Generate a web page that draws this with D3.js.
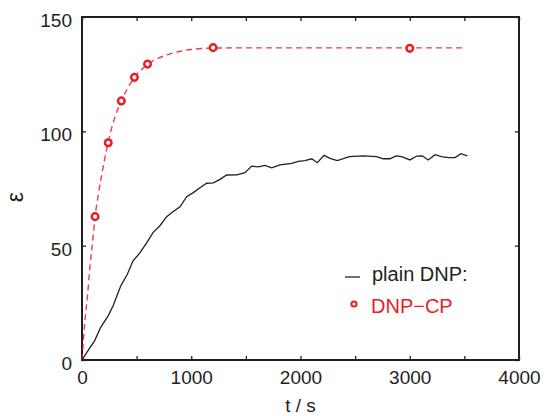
<!DOCTYPE html>
<html>
<head>
<meta charset="utf-8">
<script src="https://cdn.jsdelivr.net/npm/d3@7"></script>
<style>
  body { margin: 0; background: #fff; }
  text { font-family: "Liberation Sans", Arial, sans-serif; }
</style>
</head>
<body>
<div id="chart"></div>
<script>
// plain DNP trace (t in s, epsilon)
const plainT = [0, 55, 116, 171, 238, 284, 354, 415, 467, 528, 589, 650, 711, 775, 836, 897, 958, 1019,
    1080, 1141, 1202, 1263, 1324, 1416, 1492, 1553, 1614, 1675, 1736, 1812, 1919, 1980, 2041, 2103,
    2154, 2215, 2270, 2337, 2447, 2575, 2697, 2758, 2819, 2874, 2926, 3002, 3064, 3115, 3170, 3231,
    3292, 3353, 3414, 3469, 3527];
const plainE = [0, 4.1, 8.5, 14.3, 19.2, 23.6, 32.4, 37.5, 43.4, 46.7, 51.0, 55.7, 58.6, 62.7, 64.9, 67.0,
    71.4, 73.2, 75.3, 77.3, 77.5, 79.0, 80.9, 81.0, 81.9, 84.8, 84.5, 85.1, 84.0, 85.3, 86.0, 86.9, 87.2,
    88.0, 86.3, 89.5, 88.2, 87.2, 88.9, 89.3, 88.9, 88.0, 88.0, 89.3, 88.9, 87.5, 89.2, 89.3, 87.5, 89.8,
    88.9, 88.5, 88.5, 90.2, 89.3];

// DNP-CP measured points
const cpT = [120, 240, 360, 480, 600, 1200, 3000];
const cpE = [62.7, 95.0, 113.3, 123.6, 129.4, 136.6, 136.3];

// DNP-CP fit curve (dashed)
const fitT = [0, 25, 50, 75, 100, 120, 150, 200, 250, 300, 360, 420, 480, 540, 600, 700, 800, 900, 1000,
    1200, 1500, 2000, 3500];
const fitE = [0, 16, 28, 42, 53, 62.7, 72.5, 86, 97.5, 106, 113.3, 119, 123.6, 126.8, 129.4, 132, 133.8,
    135, 135.8, 136.4, 136.5, 136.5, 136.5];

const xTicks = [0, 500, 1000, 1500, 2000, 2500, 3000, 3500, 4000];
const xLabels = [0, 1000, 2000, 3000, 4000];
const yTicks = [0, 50, 100, 150];

const legendItems = ["plain DNP:", "DNP\u2212CP"];

class EpsChart {
    constructor(parentElement) {
        this.parentElement = parentElement;
        this.initVis();
    }

    initVis() {
        let vis = this;

        vis.margin = {top: 17, right: 28, bottom: 56, left: 82};
        vis.totalWidth = 547;
        vis.totalHeight = 416;
        vis.width = vis.totalWidth - vis.margin.left - vis.margin.right;
        vis.height = vis.totalHeight - vis.margin.top - vis.margin.bottom;

        vis.red = "#ec1c24";

        vis.svg = d3.select(vis.parentElement).append("svg")
            .attr("width", vis.totalWidth)
            .attr("height", vis.totalHeight)
            .append("g")
            .attr("transform", `translate(${vis.margin.left}, ${vis.margin.top})`);

        vis.x = d3.scaleLinear().domain([0, 4000]).range([0, vis.width]);
        vis.y = d3.scaleLinear().domain([0, 150]).range([vis.height, 0]);

        // inward ticks on all four sides
        const tickLen = 4;
        vis.svg.append("g")
            .attr("transform", `translate(0, ${vis.height})`)
            .call(d3.axisBottom(vis.x).tickValues(xTicks).tickSizeInner(-tickLen).tickSizeOuter(0)
                .tickFormat(d => xLabels.includes(d) ? d : ""))
            .call(g => g.selectAll("text").attr("dy", "1.1em").attr("font-size", 19).attr("fill", "#231f20"));
        vis.svg.append("g")
            .call(d3.axisTop(vis.x).tickValues(xTicks).tickSizeInner(-tickLen).tickSizeOuter(0).tickFormat(""));
        vis.svg.append("g")
            .call(d3.axisLeft(vis.y).tickValues(yTicks).tickSizeInner(-tickLen).tickSizeOuter(0).tickPadding(10))
            .call(g => g.selectAll("text").attr("dy", "0.5em").attr("font-size", 19).attr("fill", "#231f20"));
        vis.svg.append("g")
            .attr("transform", `translate(${vis.width}, 0)`)
            .call(d3.axisRight(vis.y).tickValues(yTicks).tickSizeInner(-tickLen).tickSizeOuter(0).tickFormat(""));

        vis.svg.selectAll(".domain").remove();
        vis.svg.selectAll(".tick line").attr("stroke", "#231f20").attr("stroke-width", 1.3);

        // frame
        vis.svg.append("rect")
            .attr("width", vis.width)
            .attr("height", vis.height)
            .attr("fill", "none")
            .attr("stroke", "#231f20")
            .attr("stroke-width", 2);

        // axis titles
        vis.svg.append("text")
            .attr("x", vis.width / 2)
            .attr("y", vis.height + 52)
            .attr("text-anchor", "middle")
            .attr("font-size", 19)
            .attr("fill", "#231f20")
            .text("t / s");
        vis.svg.append("text")
            .attr("transform", `translate(${-59}, ${180}) rotate(-90)`)
            .attr("text-anchor", "middle")
            .attr("font-size", 23)
            .attr("fill", "#231f20")
            .text("\u03b5");

        const line = (xs, ys, curve) => d3.line()
            .x((d, i) => vis.x(xs[i]))
            .y((d, i) => vis.y(ys[i]))
            .curve(curve)(xs);

        // fit curve
        vis.svg.append("path")
            .attr("d", line(fitT, fitE, d3.curveMonotoneX))
            .attr("fill", "none")
            .attr("stroke", vis.red)
            .attr("stroke-opacity", 0.85)
            .attr("stroke-width", 1.4)
            .attr("stroke-dasharray", "6,4");

        // plain DNP
        vis.svg.append("path")
            .attr("d", line(plainT, plainE, d3.curveLinear))
            .attr("fill", "none")
            .attr("stroke", "#231f20")
            .attr("stroke-width", 1.3);

        // DNP-CP markers
        vis.svg.selectAll(".cp")
            .data(cpT)
            .enter()
            .append("circle")
            .attr("class", "cp")
            .attr("cx", d => vis.x(d))
            .attr("cy", (d, i) => vis.y(cpE[i]))
            .attr("r", 3.3)
            .attr("fill", "#fff")
            .attr("stroke", vis.red)
            .attr("stroke-width", 2.5);

        // legend
        const lg = vis.svg.append("g").attr("transform", `translate(${345 - vis.margin.left}, ${277 - vis.margin.top})`);
        lg.append("line")
            .attr("x1", 0).attr("x2", 15).attr("y1", 0).attr("y2", 0)
            .attr("stroke", "#231f20").attr("stroke-width", 1.3);
        lg.append("text")
            .attr("x", 27).attr("y", 4)
            .attr("font-size", 20).attr("fill", "#231f20")
            .text(legendItems[0]);
        lg.append("circle")
            .attr("cx", 9).attr("cy", 27)
            .attr("r", 2.6)
            .attr("fill", "#fff")
            .attr("stroke", vis.red)
            .attr("stroke-width", 2);
        lg.append("text")
            .attr("x", 26).attr("y", 36)
            .attr("font-size", 20).attr("fill", vis.red)
            .text(legendItems[1]);
    }
}

new EpsChart(document.getElementById("chart"));
</script>
</body>
</html>
